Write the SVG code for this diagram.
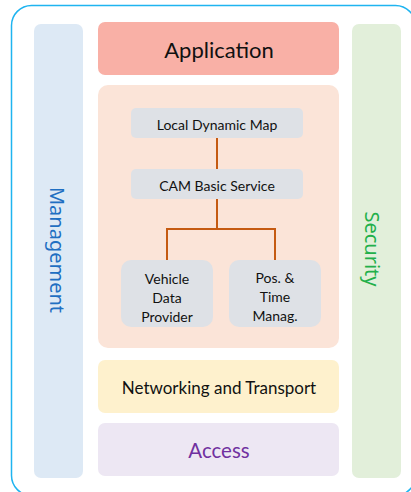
<svg xmlns="http://www.w3.org/2000/svg" width="411" height="492" viewBox="0 0 411 492">
<style>
.lbl{font-family:Lato,"Open Sans",sans-serif;fill:#111;text-anchor:middle;dominant-baseline:central}
.side{font-family:"Noto Sans","Open Sans",sans-serif;font-size:20px}
.inner{fill:#dee1e6}
.conn{fill:none;stroke:#c55a11;stroke-width:2}
.s14{font-size:14px}
</style>
<rect x="11.5" y="5.5" width="404" height="490" rx="20" fill="#fff" stroke="#1fb4f0" stroke-width="1.5"/>
<g id="management">
<rect x="34" y="24" width="49" height="454" rx="7" fill="#dde9f5"/>
<text transform="translate(57,250) rotate(90)" class="lbl side" style="fill:#1f6fc2">Management</text>
</g>
<g id="security">
<rect x="352" y="24" width="49" height="454" rx="7" fill="#e2efda"/>
<text transform="translate(372,249) rotate(90)" class="lbl side" style="fill:#22b04a">Security</text>
</g>
<g id="application">
<rect x="98" y="22" width="241" height="53" rx="7" fill="#f9b0a6"/>
<text x="219" y="49" class="lbl" style="font-size:22px">Application</text>
</g>
<g id="facilities">
<rect x="98" y="85" width="241" height="263" rx="10" fill="#fbe4d8"/>
</g>
<g id="connectors">
<path class="conn" d="M217 138V169M217 199V229M167 260V229H275V260"/>
</g>
<g id="ldm">
<rect class="inner" x="131" y="108" width="172" height="30" rx="5"/>
<text x="217" y="124" class="lbl s14">Local Dynamic Map</text>
</g>
<g id="cam">
<rect class="inner" x="131" y="169" width="172" height="30" rx="5"/>
<text x="217" y="185" class="lbl s14">CAM Basic Service</text>
</g>
<g id="vdp">
<rect class="inner" x="121" y="260" width="92" height="67" rx="10"/>
<text x="167" y="278" class="lbl s14">Vehicle</text>
<text x="167" y="297" class="lbl s14">Data</text>
<text x="167" y="316" class="lbl s14">Provider</text>
</g>
<g id="ptm">
<rect class="inner" x="229" y="260" width="92" height="67" rx="10"/>
<text x="275" y="277" class="lbl s14">Pos. &amp;</text>
<text x="275" y="296" class="lbl s14">Time</text>
<text x="275" y="315" class="lbl s14">Manag.</text>
</g>
<g id="networking">
<rect x="98" y="360" width="241" height="53" rx="7" fill="#fef1cd"/>
<text x="219" y="387" class="lbl" style="font-size:17px">Networking and Transport</text>
</g>
<g id="access">
<rect x="98" y="423" width="241" height="53" rx="7" fill="#ede7f3"/>
<text x="219" y="450" class="lbl" style="font-size:20.5px;fill:#7030a0">Access</text>
</g>
</svg>
